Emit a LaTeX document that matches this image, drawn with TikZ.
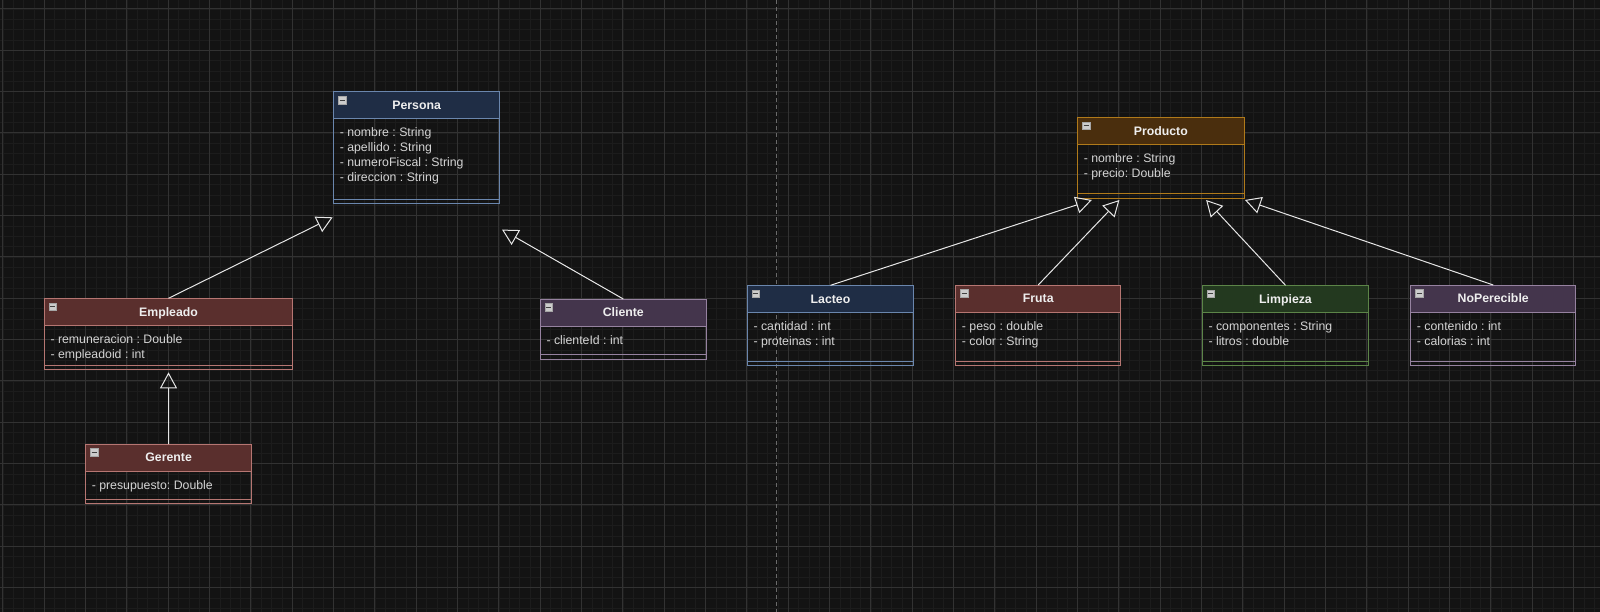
\documentclass[tikz,border=0pt]{standalone}
\usepackage{fontspec}
\setmainfont{Liberation Sans}
\usetikzlibrary{arrows.meta}
\frenchspacing

% canvas and grid
\definecolor{canvas}{HTML}{131313}
\definecolor{gridminorcol}{HTML}{1C1C1C}
\definecolor{gridmajorcol}{HTML}{323232}
\definecolor{sepcol}{HTML}{6A6A6A}
% class themes
\definecolor{clsBlueFill}{HTML}{1F2D45}
\definecolor{clsBlueLine}{HTML}{6A86AD}
\definecolor{clsRedFill}{HTML}{5A2F2D}
\definecolor{clsRedLine}{HTML}{B67672}
\definecolor{clsPurpleFill}{HTML}{44354C}
\definecolor{clsPurpleLine}{HTML}{9682A0}
\definecolor{clsOrangeFill}{HTML}{4A2E0D}
\definecolor{clsOrangeLine}{HTML}{B07A1A}
\definecolor{clsGreenFill}{HTML}{23391F}
\definecolor{clsGreenLine}{HTML}{5C8548}
\definecolor{attrcol}{HTML}{D4D4D4}
\definecolor{titlecol}{HTML}{EEEEEE}
\definecolor{edgecol}{HTML}{E6E6E6}

% one UML class: name, left, top, width, height, theme, title, attributes
\newcommand{\umlclass}[8]{%
  \node[classbox, minimum width=#4pt, minimum height=#5pt] (#1) at (#2,#3) {};
  \fill[cls#6Fill] (#1.north west) rectangle ([yshift=-27pt]#1.north east);
  \draw[classline, cls#6Line] ([yshift=-27pt]#1.north west) -- ([yshift=-27pt]#1.north east);
  \draw[classline, cls#6Line] ([yshift=4.2pt]#1.south west) -- ([yshift=4.2pt]#1.south east);
  \draw[classline, cls#6Line] (#1.north west) rectangle (#1.south east);
  \node[classtitle] (#1-title) at ([yshift=-17.9pt]#1.north) {#7};
  \node[collapse] (#1-icon) at ([xshift=8.5pt,yshift=-8.5pt]#1.north west) {};
  \draw[collapseminus] ([xshift=1.6pt]#1-icon.west) -- ([xshift=-1.6pt]#1-icon.east);
  \node[classattrs] (#1-attrs) at ([xshift=6pt,yshift=-35pt]#1.north west) {\rule{0pt}{10pt}#8};
}

\begin{document}
\begin{tikzpicture}[x=1pt,y=-1pt,
  gridminor/.style={draw=gridminorcol, line width=0.8pt},
  gridmajor/.style={draw=gridmajorcol, line width=1pt},
  separator/.style={draw=sepcol, line width=1pt, dash pattern=on 4pt off 3pt},
  classbox/.style={anchor=north west, inner sep=0pt, outer sep=0pt, draw=none},
  classline/.style={line width=1pt},
  classtitle/.style={anchor=base, inner sep=0pt, text=titlecol,
    font=\fontsize{12.3}{15}\selectfont\bfseries},
  classattrs/.style={anchor=north west, inner sep=0pt, align=left, text=attrcol,
    font=\fontsize{12.3}{15}\selectfont},
  collapse/.style={draw=gray!70, fill=gray!40!white, line width=0.6pt,
    minimum size=7.5pt, inner sep=0pt},
  collapseminus/.style={draw=black!75, line width=1pt},
  inherit/.style={draw=edgecol, line width=1pt,
    -{Triangle[open, length=16pt, width=17pt]}},
]
\useasboundingbox (0,0) rectangle (1600,612);
\fill[canvas] (0,0) rectangle (1600,612);

% background grid
\foreach \k in {-4,...,151} \draw[gridminor] ({44.3+\k*10.333},0) -- ++(0,612);
\foreach \k in {0,...,59} \draw[gridminor] (0,{9+\k*10.333}) -- ++(1600,0);
\foreach \k in {-1,...,37} \draw[gridmajor] ({44.3+\k*41.333},0) -- ++(0,612);
\foreach \k in {0,...,14} \draw[gridmajor] (0,{9+\k*41.333}) -- ++(1600,0);

% page separator
\coordinate (septop) at (776.7,0);
\coordinate (sepbottom) at (776.7,612);
\draw[separator] (septop) -- (sepbottom);

% people hierarchy
\umlclass{persona}{333.6}{91.7}{166}{111.6}{Blue}{Persona}%
  {- nombre : String\\- apellido : String\\- numeroFiscal : String\\- direccion : String}
\umlclass{empleado}{44.3}{298.3}{248.4}{71}{Red}{Empleado}%
  {- remuneracion : Double\\- empleadoid : int}
\umlclass{gerente}{85.6}{444}{166}{59.5}{Red}{Gerente}%
  {- presupuesto: Double}
\umlclass{cliente}{540.3}{299}{166}{60}{Purple}{Cliente}%
  {- clienteId : int}

% product hierarchy
\umlclass{producto}{1077.6}{117.3}{166.4}{80.8}{Orange}{Producto}%
  {- nombre : String\\- precio: Double}
\umlclass{lacteo}{747.3}{285.3}{166.4}{80.4}{Blue}{Lacteo}%
  {- cantidad : int\\- proteinas : int}
\umlclass{fruta}{955.7}{285}{165}{80.7}{Red}{Fruta}%
  {- peso : double\\- color : String}
\umlclass{limpieza}{1202.3}{285.3}{166.4}{80.4}{Green}{Limpieza}%
  {- componentes : String\\- litros : double}
\umlclass{noperecible}{1410.7}{285}{165}{80.7}{Purple}{NoPerecible}%
  {- contenido : int\\- calorias : int}

% free ends of the generalisation arrows
\coordinate (personaTipA) at (332.7,217.3);
\coordinate (personaTipB) at (502,229.6);
\coordinate (productoTipA) at (1091.8,200);
\coordinate (productoTipB) at (1119.4,200);
\coordinate (productoTipC) at (1206.1,200);
\coordinate (productoTipD) at (1244.9,200);

\draw[inherit] (empleado.north) -- (personaTipA);
\draw[inherit] (cliente.north) -- (personaTipB);
\draw[inherit, shorten >=3pt] (gerente.north) -- (empleado.south);
\draw[inherit] (lacteo.north) -- (productoTipA);
\draw[inherit] (fruta.north) -- (productoTipB);
\draw[inherit] (limpieza.north) -- (productoTipC);
\draw[inherit] (noperecible.north) -- (productoTipD);
\end{tikzpicture}
\end{document}
